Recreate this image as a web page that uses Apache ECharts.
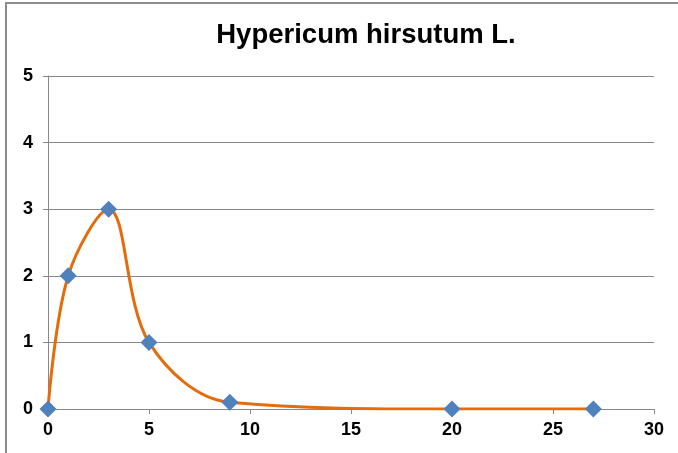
<!DOCTYPE html>
<html>
<head>
<meta charset="utf-8">
<script src="https://cdn.jsdelivr.net/npm/echarts@6/dist/echarts.min.js"></script>
<style>
  html, body { margin: 0; padding: 0; background: #fff; }
  #app { width: 678px; height: 453px; }
</style>
</head>
<body>
<div id="app"></div>
<script>
const xValues = [0, 1, 3, 5, 9, 20, 27]
const yValues = [0, 2, 3, 1, 0.1, 0, 0]

const points = xValues.map((x, i) => [x, yValues[i]])

const chart = echarts.init(document.getElementById('app'))

const labelStyle = {
  color: '#000',
  fontFamily: 'Liberation Sans, Arial, sans-serif',
  fontWeight: 'bold',
  fontSize: 18
}

chart.setOption({
  backgroundColor: '#fff',
  animation: false,
  title: {
    text: 'Hypericum hirsutum L.',
    left: 361,
    top: 16,
    textAlign: 'center',
    textStyle: {
      color: '#000',
      fontFamily: 'Liberation Sans, Arial, sans-serif',
      fontWeight: 'bold',
      fontSize: 27.5
    }
  },
  graphic: [{
    type: 'rect',
    shape: { x: 6, y: 3, width: 700, height: 500 },
    style: { fill: 'none', stroke: '#8c8c8c', lineWidth: 2 },
    silent: true
  }],
  grid: {
    left: 48,
    right: 24,
    top: 76,
    bottom: 44
  },
  xAxis: {
    type: 'value',
    min: 0,
    max: 30,
    interval: 5,
    splitLine: { show: false },
    axisLine: { show: true, onZero: false, lineStyle: { color: '#888', width: 1 } },
    axisTick: { show: true, length: 5, lineStyle: { color: '#888' } },
    axisLabel: Object.assign({ margin: 12 }, labelStyle)
  },
  yAxis: {
    type: 'value',
    min: 0,
    max: 5,
    interval: 1,
    splitLine: { show: true, lineStyle: { color: '#888', width: 1 } },
    axisLine: { show: true, lineStyle: { color: '#888', width: 1 } },
    axisTick: { show: true, length: 5, lineStyle: { color: '#888' } },
    axisLabel: Object.assign({ margin: 15 }, labelStyle)
  },
  series: [{
    type: 'line',
    data: points,
    smooth: 0.35,
    symbol: 'diamond',
    symbolSize: 17,
    itemStyle: { color: '#4F81BD' },
    lineStyle: { color: '#E46C0A', width: 3 }
  }]
})
</script>
</body>
</html>
